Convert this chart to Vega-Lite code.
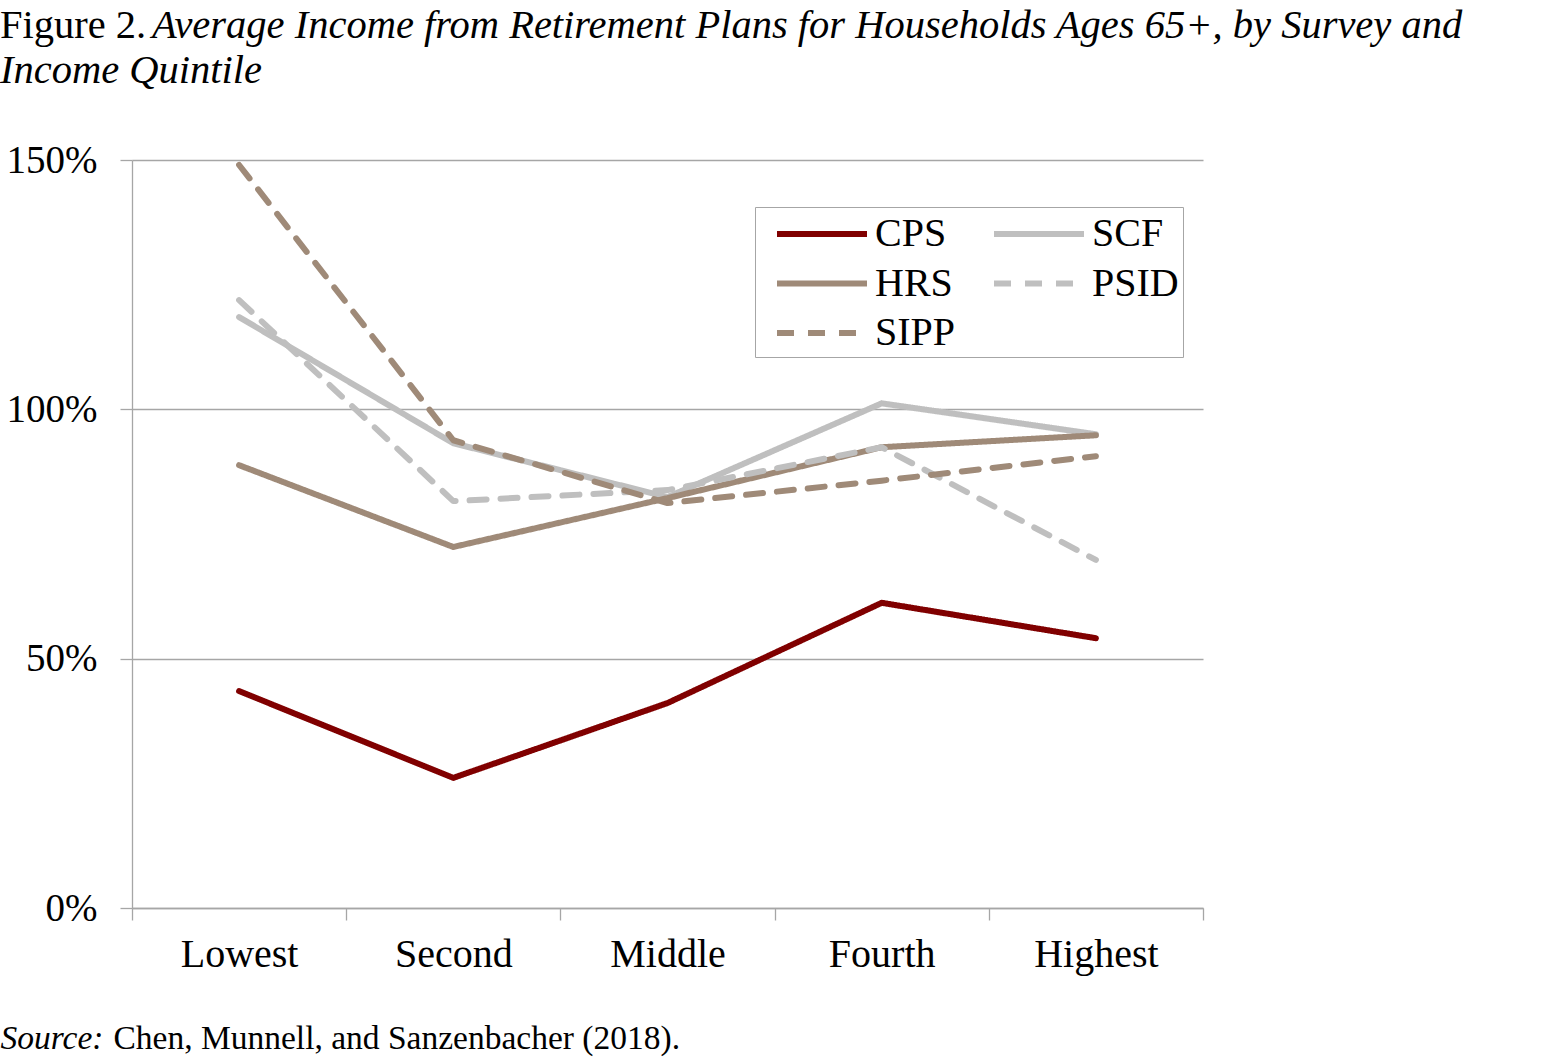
{
  "$schema": "https://vega.github.io/schema/vega-lite/v6.json",
  "width": 1071,
  "height": 748,
  "autosize": "none",
  "padding": {"left": 132, "top": 160, "right": 365, "bottom": 150},
  "background": "white",
  "title": {
    "text": "Figure 2.",
    "subtitle": [
      "\u200b\u00a0\u00a0\u00a0\u00a0\u00a0\u00a0\u00a0\u00a0\u00a0\u00a0\u00a0\u00a0\u00a0\u00a0\u00a0Average Income from Retirement Plans for Households Ages 65+, by Survey and",
      "Income Quintile"
    ],
    "anchor": "start",
    "frame": "group",
    "orient": "top",
    "dx": -132,
    "offset": 50,
    "font": "Liberation Serif",
    "fontSize": 40.5,
    "fontWeight": "normal",
    "color": "black",
    "subtitleFont": "Liberation Serif",
    "subtitleFontSize": 40.5,
    "subtitleFontStyle": "italic",
    "subtitleColor": "black",
    "subtitlePadding": -40.5,
    "subtitleLineHeight": 45
  },
  "data": {
    "values": [
      {"quintile": "Lowest", "survey": "CPS", "pct": 43.5},
      {"quintile": "Second", "survey": "CPS", "pct": 26.1},
      {"quintile": "Middle", "survey": "CPS", "pct": 41.1},
      {"quintile": "Fourth", "survey": "CPS", "pct": 61.2},
      {"quintile": "Highest", "survey": "CPS", "pct": 54.1},
      {"quintile": "Lowest", "survey": "SCF", "pct": 118.5},
      {"quintile": "Second", "survey": "SCF", "pct": 93.2},
      {"quintile": "Middle", "survey": "SCF", "pct": 82.4},
      {"quintile": "Fourth", "survey": "SCF", "pct": 101.2},
      {"quintile": "Highest", "survey": "SCF", "pct": 95.0},
      {"quintile": "Lowest", "survey": "HRS", "pct": 88.8},
      {"quintile": "Second", "survey": "HRS", "pct": 72.4},
      {"quintile": "Middle", "survey": "HRS", "pct": 82.2},
      {"quintile": "Fourth", "survey": "HRS", "pct": 92.4},
      {"quintile": "Highest", "survey": "HRS", "pct": 94.8},
      {"quintile": "Lowest", "survey": "PSID", "pct": 121.9},
      {"quintile": "Second", "survey": "PSID", "pct": 81.6},
      {"quintile": "Middle", "survey": "PSID", "pct": 83.8},
      {"quintile": "Fourth", "survey": "PSID", "pct": 92.4},
      {"quintile": "Highest", "survey": "PSID", "pct": 69.8},
      {"quintile": "Lowest", "survey": "SIPP", "pct": 149.0},
      {"quintile": "Second", "survey": "SIPP", "pct": 93.8},
      {"quintile": "Middle", "survey": "SIPP", "pct": 81.2},
      {"quintile": "Fourth", "survey": "SIPP", "pct": 85.7},
      {"quintile": "Highest", "survey": "SIPP", "pct": 90.6}
    ]
  },
  "mark": {"type": "line", "strokeWidth": 6, "strokeCap": "round", "strokeJoin": "round"},
  "encoding": {
    "x": {
      "field": "quintile",
      "type": "ordinal",
      "sort": ["Lowest", "Second", "Middle", "Fourth", "Highest"],
      "scale": {"type": "band", "paddingInner": 0, "paddingOuter": 0},
      "axis": {
        "labelAngle": 0,
        "labelFont": "Liberation Serif",
        "labelFontSize": 40,
        "labelColor": "black",
        "labelPadding": 14,
        "domainColor": "#A6A6A6",
        "domainWidth": 1.3,
        "tickColor": "#A6A6A6",
        "tickWidth": 1.3,
        "tickSize": 12,
        "tickBand": "extent",
        "grid": false,
        "title": "Chen, Munnell, and Sanzenbacher (2018).",
        "titleFont": "Liberation Serif",
        "titleFontSize": 33.5,
        "titleFontWeight": "normal",
        "titleColor": "black",
        "titleAlign": "left",
        "titleBaseline": "alphabetic",
        "titleX": -19,
        "titleY": 140
      }
    },
    "y": {
      "field": "pct",
      "type": "quantitative",
      "scale": {"domain": [0, 150], "nice": false},
      "axis": {
        "values": [0, 50, 100, 150],
        "labelExpr": "datum.value + '%'",
        "labelFont": "Liberation Serif",
        "labelFontSize": 39,
        "labelColor": "black",
        "labelPadding": 23,
        "domainColor": "#A6A6A6",
        "domainWidth": 1.3,
        "tickColor": "#A6A6A6",
        "tickWidth": 1.3,
        "tickSize": 12,
        "grid": true,
        "gridColor": "#A6A6A6",
        "gridWidth": 1.3,
        "title": "Source:",
        "titleFont": "Liberation Serif",
        "titleFontSize": 33.5,
        "titleFontStyle": "italic",
        "titleFontWeight": "normal",
        "titleColor": "black",
        "titleAngle": 0,
        "titleAlign": "left",
        "titleBaseline": "alphabetic",
        "titleX": -132,
        "titleY": 888
      }
    },
    "color": {
      "field": "survey",
      "type": "nominal",
      "sort": ["CPS", "HRS", "SIPP", "SCF", "PSID"],
      "scale": {
        "domain": ["CPS", "HRS", "SIPP", "SCF", "PSID"],
        "range": ["#800000", "#9F8A78", "#9F8A78", "#BFBFBF", "#BFBFBF"]
      },
      "legend": {
        "title": null,
        "orient": "none",
        "legendX": 623,
        "legendY": 47,
        "columns": 2,
        "strokeColor": "#A6A6A6",
        "padding": 4,
        "symbolType": "M-2.25,0H2.25",
        "symbolSize": 1600,
        "symbolStrokeWidth": 6,
        "symbolOffset": 40,
        "labelFont": "Liberation Serif",
        "labelFontSize": 40,
        "labelColor": "black",
        "labelOffset": 30,
        "labelLimit": 0,
        "columnPadding": 20,
        "rowPadding": 6.5
      }
    },
    "strokeDash": {
      "field": "survey",
      "type": "nominal",
      "sort": ["CPS", "HRS", "SIPP", "SCF", "PSID"],
      "scale": {
        "domain": ["CPS", "HRS", "SIPP", "SCF", "PSID"],
        "range": [[1, 0], [1, 0], [17, 14], [1, 0], [17, 14]]
      },
      "legend": {
        "title": null,
        "orient": "none",
        "legendX": 623,
        "legendY": 47,
        "columns": 2,
        "strokeColor": "#A6A6A6",
        "padding": 4,
        "symbolType": "M-2.25,0H2.25",
        "symbolSize": 1600,
        "symbolStrokeWidth": 6,
        "symbolOffset": 40,
        "labelFont": "Liberation Serif",
        "labelFontSize": 40,
        "labelColor": "black",
        "labelOffset": 30,
        "labelLimit": 0,
        "columnPadding": 20,
        "rowPadding": 6.5
      }
    }
  },
  "config": {"view": {"stroke": null}}
}
